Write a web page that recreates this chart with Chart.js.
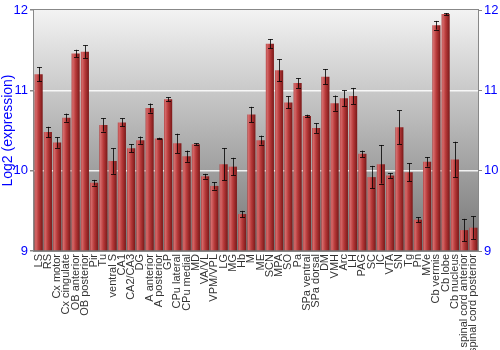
<!DOCTYPE html>
<html><head><meta charset="utf-8">
<script src="https://cdn.jsdelivr.net/npm/chart.js@4"></script>
<style>html,body{margin:0;padding:0;background:#fff}#w{width:500px;height:350px}</style>
</head><body><div id="w"><canvas id="c"></canvas></div>
<script>
const categories = ["LS","RS","Cx motor","Cx cingulate","OB anterior","OB posterior","Pir","Tu","ventral S","CA1","CA2/CA3","DG","A anterior","A posterior","GP","CPu lateral","CPu medial","MD","VA/VL","VPM/VPL","LG","MG","Hb","M","ME","SCN","MPA","SO","Pa","SPa ventral","SPa dorsal","DM","VMH","Arc","LH","PAG","SC","IC","VTA","SN","Tg","Pn","MVe","Cb vermis","Cb lobe","Cb nucleus","spinal cord anterior","spinal cord posterior"];
const expression = [11.20,10.48,10.35,10.66,11.46,11.48,9.85,10.57,10.12,10.60,10.28,10.38,10.78,10.40,10.89,10.34,10.18,10.33,9.93,9.81,10.08,10.05,9.46,10.70,10.38,11.58,11.25,10.85,11.09,10.68,10.53,11.17,10.84,10.90,10.93,10.21,9.92,10.08,9.94,10.54,9.98,9.39,10.11,11.81,11.95,10.14,9.26,9.29];
const errors = [0.09,0.066,0.066,0.05,0.045,0.08,0.035,0.083,0.16,0.05,0.05,0.045,0.056,0.01,0.025,0.12,0.07,0.01,0.03,0.045,0.2,0.11,0.04,0.095,0.056,0.058,0.14,0.075,0.06,0.017,0.06,0.095,0.095,0.1,0.1,0.04,0.14,0.24,0.03,0.21,0.11,0.03,0.06,0.054,0.012,0.22,0.14,0.14];
const yTicks = [9,10,11,12];

const bgPlugin = {
  id:'bg',
  beforeDraw(chart){
    const {ctx, chartArea:a} = chart;
    const g = ctx.createLinearGradient(0,a.top,0,a.bottom);
    g.addColorStop(0,'#f3f3f3');
    g.addColorStop(1,'#757575');
    ctx.save(); ctx.fillStyle=g; ctx.fillRect(a.left,a.top,a.width,a.height); ctx.restore();
  },
  afterDraw(chart){
    const {ctx, chartArea:a} = chart;
    ctx.save(); ctx.strokeStyle='#888'; ctx.lineWidth=1;
    ctx.strokeRect(Math.round(a.left)-0.5,Math.round(a.top)-0.5,Math.round(a.width)+1,Math.round(a.height)+1);
    ctx.restore();
  }
};
const errPlugin = {
  id:'err',
  afterDatasetsDraw(chart){
    const {ctx} = chart; const xs=chart.scales.x, ys=chart.scales.y;
    ctx.save(); ctx.strokeStyle='rgba(0,0,0,0.8)'; ctx.lineWidth=1;
    expression.forEach((v,i)=>{
      const x=Math.round(xs.getPixelForValue(i))+0.5;
      const t=ys.getPixelForValue(v+errors[i]), b=ys.getPixelForValue(v-errors[i]);
      ctx.beginPath();
      ctx.moveTo(x,t); ctx.lineTo(x,b);
      ctx.moveTo(x-2.5,Math.round(t)+0.5); ctx.lineTo(x+2.5,Math.round(t)+0.5);
      ctx.moveTo(x-2.5,Math.round(b)+0.5); ctx.lineTo(x+2.5,Math.round(b)+0.5);
      ctx.stroke();
    });
    ctx.restore();
  }
};
const tickFont = {family:'"Liberation Sans", Arial, sans-serif', size:13};
new Chart(document.getElementById('c'),{
  type:'bar',
  data:{labels:categories,datasets:[{data:expression,
    backgroundColor:(c)=>{
      const ch=c.chart; const a=ch.chartArea; if(!a) return '#a33';
      const x=ch.scales.x.getPixelForValue(c.dataIndex); const w=a.width/categories.length*0.88;
      const g=ch.ctx.createLinearGradient(x-w/2,0,x+w/2,0);
      g.addColorStop(0,'#b04040'); g.addColorStop(0.15,'#d56a6a'); g.addColorStop(0.5,'#b83a3a'); g.addColorStop(1,'#7a1818');
      return g;
    },
    borderWidth:0, barPercentage:0.88, categoryPercentage:1.0, base:9}]},
  options:{
    responsive:true, maintainAspectRatio:false, animation:false,
    layout:{padding:{top:10,right:0,left:0,bottom:0}},
    plugins:{legend:{display:false},tooltip:{enabled:false}},
    scales:{
      x:{grid:{display:false,drawTicks:false},border:{display:false},
        ticks:{autoSkip:false,maxRotation:90,minRotation:90,color:'#333',padding:3,font:{family:'"Liberation Sans", Arial, sans-serif',size:11}},
        afterFit(s){s.height=99;}},
      y:{min:9,max:12,position:'left',
        afterBuildTicks(s){s.ticks=yTicks.map(v=>({value:v}));},
        grid:{color:(c)=>(c.tick&&(c.tick.value===10||c.tick.value===11))?'rgba(255,255,255,0.85)':'rgba(0,0,0,0)',lineWidth:1.5,tickColor:'#888',tickLength:4},
        border:{display:false},
        ticks:{color:'#0000ff',font:tickFont,padding:2},
        title:{display:true,text:'Log2 (expression)',color:'#0000ff',font:{family:'"Liberation Sans", Arial, sans-serif',size:14},padding:0},
        afterFit(s){s.width=34;}},
      y2:{min:9,max:12,position:'right',
        afterBuildTicks(s){s.ticks=yTicks.map(v=>({value:v}));},
        grid:{drawOnChartArea:false,tickColor:'#888',tickLength:4},border:{display:false},
        ticks:{color:'#0000ff',font:tickFont,padding:2},
        afterFit(s){s.width=22;}}
    }
  },
  plugins:[bgPlugin,errPlugin]
});
</script></body></html>
